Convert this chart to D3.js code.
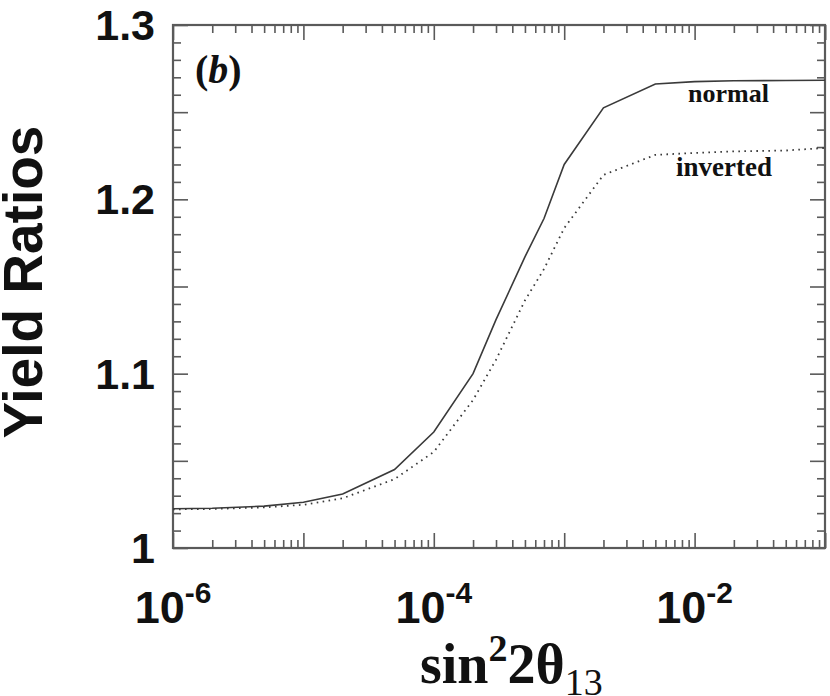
<!DOCTYPE html>
<html>
<head>
<meta charset="utf-8">
<script src="https://cdn.jsdelivr.net/npm/d3@7"></script>
<style>
  body { margin: 0; background: #fff; }
  svg { display: block; }
</style>
</head>
<body>
<script>
// sin^2 2theta13 values where the curves were sampled
const sinSq = [1e-6, 2e-6, 5e-6, 1e-5, 2e-5, 5e-5, 1e-4, 2e-4, 3e-4, 5e-4, 7e-4, 1e-3, 2e-3, 5e-3, 1e-2, 2e-2, 5e-2, 1e-1];
const normalRatio = [1.0225, 1.0228, 1.0240, 1.0262, 1.0310, 1.0450, 1.0665, 1.1000, 1.131, 1.167, 1.189, 1.220, 1.2525, 1.2662, 1.2675, 1.2680, 1.2682, 1.2683];
const invertedRatio = [1.0222, 1.0224, 1.0233, 1.0248, 1.0285, 1.0395, 1.0551, 1.0849, 1.108, 1.142, 1.160, 1.1835, 1.214, 1.2255, 1.2266, 1.2275, 1.228, 1.2295];

const xLabelVals = [1e-6, 1e-4, 1e-2];
const xLabelExps = ["-6", "-4", "-2"];
const yLabelVals = [1, 1.1, 1.2, 1.3];
const yLabelText = ["1", "1.1", "1.2", "1.3"];

const w = 830, h = 696;
const plotL = 173, plotR = 825, plotT = 25, plotB = 548;

const x = d3.scaleLog().domain([1e-6, 1e-1]).range([plotL, plotR]);
const y = d3.scaleLinear().domain([1, 1.3]).range([plotB, plotT]);

const svg = d3.select("body").append("svg")
    .attr("width", w)
    .attr("height", h);

// tick values
const xMajor = d3.range(-6, 0).map(e => Math.pow(10, e));
const xMinor = [];
xMajor.forEach(d => { for (let k = 2; k <= 9; k++) xMinor.push(d * k); });
const yMid = d3.range(0, 7).map(i => 1 + i * 0.05);
const yMinor = d3.range(0, 31).map(i => 1 + i * 0.01).filter((v, i) => i % 5 !== 0);

const axisColor = "#5a5a5a";

function drawAxis(gen, tr) {
    const g = svg.append("g").attr("transform", tr).call(gen);
    g.selectAll("line").attr("stroke", axisColor).attr("stroke-width", 1.6);
    g.select(".domain").remove();
    g.selectAll("text").remove();
    return g;
}

// major/minor ticks on all four sides, pointing inward
drawAxis(d3.axisBottom(x).tickValues(xMajor.concat([1e-1])).tickSize(-15), `translate(0,${plotB})`);
drawAxis(d3.axisBottom(x).tickValues(xMinor).tickSize(-8), `translate(0,${plotB})`);
drawAxis(d3.axisTop(x).tickValues(xMajor.concat([1e-1])).tickSize(-15), `translate(0,${plotT})`);
drawAxis(d3.axisTop(x).tickValues(xMinor).tickSize(-8), `translate(0,${plotT})`);
drawAxis(d3.axisLeft(y).tickValues(yMid).tickSize(-15), `translate(${plotL},0)`);
drawAxis(d3.axisLeft(y).tickValues(yMinor).tickSize(-8), `translate(${plotL},0)`);
drawAxis(d3.axisRight(y).tickValues(yMid).tickSize(-15), `translate(${plotR},0)`);
drawAxis(d3.axisRight(y).tickValues(yMinor).tickSize(-8), `translate(${plotR},0)`);

// frame
svg.append("rect")
    .attr("x", plotL).attr("y", plotT)
    .attr("width", plotR - plotL).attr("height", plotB - plotT)
    .attr("fill", "none")
    .attr("stroke", axisColor)
    .attr("stroke-width", 2.2);

// curves
const line = d3.line()
    .x(d => x(d[0]))
    .y(d => y(d[1]));

svg.append("path")
    .datum(sinSq.map((v, i) => [v, normalRatio[i]]))
    .attr("d", line)
    .attr("fill", "none")
    .attr("stroke", "#3a3a3a")
    .attr("stroke-width", 1.6);

svg.append("path")
    .datum(sinSq.map((v, i) => [v, invertedRatio[i]]))
    .attr("d", line)
    .attr("fill", "none")
    .attr("stroke", "#3a3a3a")
    .attr("stroke-width", 1.8)
    .attr("stroke-dasharray", "1.6,4.4");

// tick labels
const sansBold = "'Liberation Sans', Arial, sans-serif";
const serif = "'Liberation Serif', 'Times New Roman', serif";

svg.append("g").selectAll("text")
    .data(yLabelVals)
    .enter()
    .append("text")
    .attr("x", 155)
    .attr("y", d => y(d) + 15)
    .attr("text-anchor", "end")
    .attr("font-family", sansBold)
    .attr("font-weight", "bold")
    .attr("font-size", 43)
    .attr("fill", "#111")
    .text((d, i) => yLabelText[i]);

const xl = svg.append("g").selectAll("text")
    .data(xLabelVals)
    .enter()
    .append("text")
    .attr("x", d => x(d))
    .attr("y", 623)
    .attr("text-anchor", "middle")
    .attr("font-family", sansBold)
    .attr("font-weight", "bold")
    .attr("font-size", 45)
    .attr("fill", "#111");
xl.append("tspan").text("10");
xl.append("tspan")
    .attr("dy", -20)
    .attr("font-size", 30)
    .text((d, i) => xLabelExps[i]);

// axis titles
svg.append("text")
    .attr("transform", "translate(42,282) rotate(-90)")
    .attr("text-anchor", "middle")
    .attr("font-family", sansBold)
    .attr("font-weight", "bold")
    .attr("font-size", 55)
    .attr("fill", "#111")
    .text("Yield Ratios");

const xt = svg.append("text")
    .attr("x", 420)
    .attr("y", 683)
    .attr("font-family", serif)
    .attr("font-weight", "bold")
    .attr("font-size", 56)
    .attr("fill", "#111");
xt.append("tspan").text("sin");
xt.append("tspan").attr("dy", -22).attr("font-size", 38).text("2");
xt.append("tspan").attr("dy", 22).text("2θ");
xt.append("tspan").attr("dy", 12).attr("font-size", 38).attr("font-weight", "normal").text("13");

// annotations
const pb = svg.append("text")
    .attr("x", 195)
    .attr("y", 83)
    .attr("font-family", serif)
    .attr("font-weight", "bold")
    .attr("font-size", 40)
    .attr("fill", "#111");
pb.append("tspan").text("(");
pb.append("tspan").attr("font-style", "italic").text("b");
pb.append("tspan").text(")");

svg.append("text")
    .attr("x", 688)
    .attr("y", 102)
    .attr("font-family", serif)
    .attr("font-weight", "bold")
    .attr("font-size", 26)
    .attr("fill", "#111")
    .text("normal");

svg.append("text")
    .attr("x", 676)
    .attr("y", 176)
    .attr("font-family", serif)
    .attr("font-weight", "bold")
    .attr("font-size", 27)
    .attr("fill", "#111")
    .text("inverted");
</script>
</body>
</html>
